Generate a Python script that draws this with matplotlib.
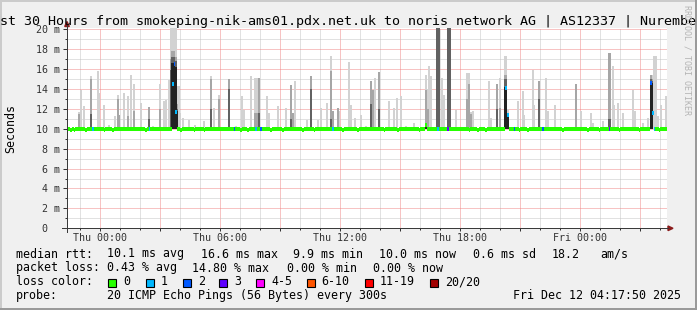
import numpy as np
import matplotlib
matplotlib.use("Agg")
from matplotlib import pyplot
from matplotlib.lines import Line2D
from matplotlib.patches import Rectangle, Polygon

# time axis: hours relative to Thu 00:00, one step every 300 s
start_hour = -1.65
n_steps = 360
step_h = 300 / 3600
baseline_ms = 10.0

# smoke, outer (light) band top per spike, ms
light_hour = [-1.05, -0.95, -0.78, -0.45, -0.12, -0.05, 0.20, 0.45, 0.75, 0.89,
              0.97, 1.22, 1.39, 1.55, 1.72, 2.05, 2.47, 2.65, 3.00, 3.22,
              3.30, 3.47, 3.53, 3.62, 3.70, 3.79, 3.87, 3.94, 4.02, 4.15,
              4.45, 4.75, 5.20, 5.57, 5.68, 5.97, 6.47, 6.80, 7.10, 7.20,
              7.55, 7.75, 7.85, 7.94, 8.35, 8.47, 8.89, 9.30, 9.55, 9.64,
              9.77, 10.35, 10.55, 10.92, 11.05, 11.35, 11.55, 11.64, 11.89, 11.97,
              12.47, 12.55, 12.77, 13.05, 13.30, 13.55, 13.67, 13.77, 13.97, 14.47,
              14.72, 14.85, 15.05, 15.29, 15.69, 16.28, 16.38, 16.47, 16.55, 16.84,
              16.93, 17.10, 17.22, 17.41, 17.50, 17.80, 18.33, 18.43, 18.53, 18.64,
              19.47, 19.55, 19.85, 19.98, 20.23, 20.31, 20.40, 20.89, 21.14, 21.22,
              21.64, 21.72, 21.97, 22.30, 22.39, 22.75, 23.80, 24.05, 24.55, 24.64,
              25.14, 25.43, 25.51, 25.64, 25.72, 25.89, 26.14, 26.64, 26.77, 27.14,
              27.39, 27.53, 27.61, 27.70, 27.79, 27.89, 28.05, 28.30]
light_top = [11.7, 13.9, 12.3, 15.3, 15.8, 13.6, 12.4, 10.4, 11.3, 13.4,
             11.4, 13.6, 13.3, 15.4, 14.5, 12.6, 12.2, 10.3, 14.5, 12.8,
             12.9, 14.9, 20.5, 20.5, 20.5, 20.5, 14.3, 14.3, 11.6, 11.1,
             10.9, 10.4, 10.8, 15.3, 12.1, 13.4, 15.0, 10.3, 13.3, 11.9,
             15.3, 15.1, 15.1, 15.1, 13.3, 11.6, 12.3, 12.1, 14.4, 11.6,
             14.8, 10.9, 15.3, 10.9, 12.1, 12.6, 17.3, 11.8, 12.1, 11.8,
             16.7, 12.4, 11.1, 11.4, 10.3, 14.8, 13.9, 15.1, 15.7, 12.8,
             12.1, 13.1, 13.3, 10.3, 10.6, 15.4, 14.0, 16.3, 15.3, 20.5,
             20.5, 15.1, 13.4, 20.5, 20.5, 11.9, 15.6, 15.6, 11.7, 11.8,
             14.8, 11.1, 14.5, 15.1, 17.3, 17.3, 12.0, 12.8, 13.8, 11.4,
             15.9, 12.4, 14.8, 15.1, 11.8, 12.4, 14.5, 11.8, 11.6, 10.6,
             10.8, 17.6, 17.6, 16.3, 12.4, 12.6, 11.6, 13.9, 11.8, 10.6,
             11.1, 15.4, 15.4, 17.3, 17.3, 11.3, 12.4, 13.3]

# middle grey band
mid_hour = [-1.05, -0.45, 0.89, 0.97, 1.39, 1.72, 2.47, 3.00, 3.53, 3.62,
            3.70, 3.79, 3.87, 5.57, 5.97, 6.47, 7.75, 7.85, 7.94, 9.55,
            9.64, 10.55, 11.55, 11.64, 11.89, 13.55, 13.67, 13.97, 16.28, 16.38,
            16.84, 16.93, 17.41, 17.50, 18.33, 18.43, 18.53, 19.85, 19.98, 20.23,
            20.31, 20.40, 21.97, 23.80, 25.43, 25.51, 27.53, 27.61]
mid_top = [11.5, 15.0, 13.0, 11.4, 11.3, 11.8, 12.2, 12.0, 17.0, 17.8,
           17.8, 17.2, 12.5, 15.0, 13.0, 15.0, 11.6, 11.6, 15.1, 14.4,
           11.6, 15.3, 15.8, 11.8, 12.1, 14.8, 13.9, 15.7, 13.9, 12.0,
           20.5, 20.5, 20.5, 20.5, 13.0, 14.5, 11.5, 14.5, 12.1, 15.4,
           15.4, 11.4, 14.8, 14.5, 17.6, 17.6, 15.4, 15.0]

# dark grey band
dark_hour = [-0.45, 2.47, 3.53, 3.62, 3.70, 3.79, 3.87, 5.57, 6.47, 7.94,
             9.55, 10.55, 11.55, 13.55, 13.97, 16.28, 16.84, 16.93, 17.41, 17.50,
             19.85, 20.23, 20.31, 20.40, 21.97, 25.43, 25.51, 27.53, 27.61]
dark_top = [11.5, 11.0, 15.9, 17.2, 17.2, 16.8, 12.0, 12.0, 14.0, 11.6,
            11.0, 14.0, 11.0, 12.5, 12.0, 10.5, 20.5, 20.5, 20.5, 20.5,
            12.0, 15.0, 15.0, 11.4, 13.0, 11.0, 11.0, 15.0, 14.8]

# innermost (near black) band
core_hour = [3.62, 3.70, 3.79, 3.87, 16.28, 20.23, 20.31, 20.40, 27.53, 27.61]
core_top = [16.6, 16.6, 16.2, 11.8, 10.5, 14.2, 14.2, 11.4, 14.6, 14.6]

# median rtt where it is not 10.0 ms
median_hour = [3.62, 3.70, 3.79, 16.28, 20.31, 20.40, 27.53, 27.61,
               -1.45, -1.25, -0.70, 0.20, 0.65, 2.30, 4.05, 4.75, 5.20, 7.05,
               7.35, 8.55, 9.15, 10.10, 10.70, 12.15, 12.90, 14.25, 14.90, 15.95,
               18.50, 18.90, 19.30, 21.00, 21.40, 23.10, 24.40, 25.00, 26.00, 27.00, 28.00]
median_val = [14.5, 16.5, 11.7, 10.4, 14.1, 11.4, 14.6, 11.6,
              9.9, 9.9, 9.9, 9.9, 9.9, 9.9, 9.9, 9.9, 9.9, 9.9,
              9.9, 9.9, 9.9, 9.9, 9.9, 9.9, 9.9, 9.9, 9.9, 9.9,
              9.9, 9.9, 9.9, 9.9, 9.9, 9.9, 9.9, 9.9, 9.9, 9.9, 9.9]

# lost pings (of 20) per step
loss_hour = [-0.40, 2.50, 3.62, 3.70, 3.79, 6.75, 7.80, 8.05, 11.63, 16.85,
             17.43, 20.31, 20.40, 20.72, 22.13, 25.45, 27.53, 27.61, 27.72]
loss_count = [1, 1, 1, 2, 1, 2, 1, 2, 1, 1,
              3, 1, 1, 2, 2, 3, 2, 1, 1]

loss_labels = ["0", "1", "2", "3", "4-5", "6-10", "11-19", "20/20"]
loss_upper = [0, 1, 2, 3, 5, 10, 19, 20]
loss_colors = ["#26ff00", "#00b8ff", "#0059ff", "#5e00ff", "#ff00ff", "#ff5500", "#ff0000", "#a10000"]

rtt_avg, rtt_max, rtt_min, rtt_now, rtt_sd, am_s = 10.1, 16.6, 9.9, 10.0, 0.6, 18.2
loss_avg, loss_max, loss_min, loss_now = 0.43, 14.80, 0.00, 0.00

title = "Last 30 Hours from smokeping-nik-ams01.pdx.net.uk to noris network AG | AS12337 | Nuremberg"
probe_text = "20 ICMP Echo Pings (56 Bytes) every 300s"
stamp = "Fri Dec 12 04:17:50 2025"

x_ticks = [0, 6, 12, 18, 24]
x_labels = ["Thu 00:00", "Thu 06:00", "Thu 12:00", "Thu 18:00", "Fri 00:00"]

W, H = 697, 310
MONO = "DejaVu Sans Mono"
pyplot.rcParams["font.family"] = MONO


def fx(x):
    return x / W


def fy(y):
    return 1 - y / H


def step_index(h):
    return int((h - start_hour) / step_h)


def loss_color(n):
    for up, c in zip(loss_upper, loss_colors):
        if n <= up:
            return c
    return loss_colors[-1]


step_centers = start_hour + (np.arange(n_steps) + 0.5) * step_h
median = np.full(n_steps, baseline_ms)
for h, v in zip(median_hour, median_val):
    median[step_index(h)] = v
loss = np.zeros(n_steps, dtype=int)
for h, n in zip(loss_hour, loss_count):
    loss[step_index(h)] = n

fig = pyplot.figure(figsize=(W / 100, H / 100), dpi=100, facecolor="#f0f0f0")
ax = fig.add_axes([fx(67), fy(228.3), 600 / W, 200 / H])
ax.set_facecolor("white")
ax.set_xlim(start_hour, start_hour + n_steps * step_h)
ax.set_ylim(0, 20.1)
ax.set_axisbelow(True)
for s in ax.spines.values():
    s.set_visible(False)

# grid: red dotted major, grey dotted minor
ax.set_xticks(np.arange(0, 28.5, 3))
ax.set_xticklabels([x_labels[x_ticks.index(t)] if t in x_ticks else "" for t in np.arange(0, 28.5, 3)])
ax.set_xticks(np.arange(-1, 28.5, 1), minor=True)
ax.set_yticks(np.arange(0, 21, 2))
ax.set_yticklabels(["0  "] + ["%d m" % v for v in range(2, 21, 2)])
ax.set_yticks(np.arange(1, 20, 2), minor=True)
ax.grid(which="minor", color="#c4c4c4", linestyle=(0, (1, 1)), linewidth=0.72)
ax.grid(which="major", color="#f08888", linestyle=(0, (1, 1)), linewidth=0.72)
ax.tick_params(which="both", colors="#333333", width=0.72, labelsize=7.2)
ax.tick_params(axis="y", which="major", length=2.8, pad=2)
ax.tick_params(axis="y", which="minor", length=1.4)
ax.tick_params(axis="x", which="major", length=2.2, pad=1.5)
ax.tick_params(axis="x", which="minor", length=1.2)

# smoke
w = step_h * 1.3
ax.bar(light_hour, np.array(light_top) - baseline_ms, bottom=baseline_ms, width=w, color="#d2d2d2", linewidth=0)
ax.bar(mid_hour, np.array(mid_top) - baseline_ms, bottom=baseline_ms, width=w, color="#a6a6a6", linewidth=0)
ax.bar(dark_hour, np.array(dark_top) - baseline_ms, bottom=baseline_ms, width=w, color="#626262", linewidth=0)
ax.bar(core_hour, np.array(core_top) - baseline_ms, bottom=baseline_ms, width=w, color="#222222", linewidth=0)

# median, coloured by loss
colors = [loss_color(n) for n in loss]
ax.bar(step_centers, 0.36, bottom=median - 0.18, width=step_h * 1.04, color=colors, linewidth=0)

# axis lines with arrows
axis_c = "#3a3a3a"
fig.add_artist(Line2D([fx(67), fx(67)], [fy(232), fy(25)], color=axis_c, lw=0.72))
fig.add_artist(Line2D([fx(62), fx(668)], [fy(228.3), fy(228.3)], color=axis_c, lw=0.72))
fig.add_artist(Polygon([(fx(64.7), fy(26.5)), (fx(69.3), fy(26.5)), (fx(67), fy(21.5))], closed=True,
                       color="#8b1c1c", transform=fig.transFigure))
fig.add_artist(Polygon([(fx(668), fy(226)), (fx(668), fy(230.6)), (fx(673), fy(228.3))], closed=True,
                       color="#8b1c1c", transform=fig.transFigure))

# frame
fig.add_artist(Rectangle((0, fy(2)), 1, 2 / H, color="#cbcbcb", transform=fig.transFigure, lw=0))
fig.add_artist(Rectangle((0, 0), 2 / W, 1, color="#cbcbcb", transform=fig.transFigure, lw=0))
fig.add_artist(Rectangle((0, 0), 1, 2 / H, color="#9a9a9a", transform=fig.transFigure, lw=0))
fig.add_artist(Rectangle((fx(695), 0), 2 / W, 1, color="#9a9a9a", transform=fig.transFigure, lw=0))

fig.text(0.5, fy(24.5), title, ha="center", va="baseline", fontsize=9.6)
fig.text(fx(11), fy(128.5), "Seconds", rotation=90, ha="center", va="center", fontsize=8.4)
fig.text(fx(687.5), fy(5), "RRDTOOL / TOBI OETIKER", rotation=270, ha="center", va="top",
         fontsize=6, color="#b4b4b4")

# legend
lf = 8.4
rows = [
    (257.5, [("median rtt:", 16), ("%.1f ms avg" % rtt_avg, 107.3), ("%.1f ms max" % rtt_max, 201),
             ("%.1f ms min" % rtt_min, 293.3), ("%.1f ms now" % rtt_now, 379.3),
             ("%.1f ms sd" % rtt_sd, 472.7), ("%.1f" % am_s, 551.7), ("am/s", 600)]),
    (271.5, [("packet loss:", 16), ("%.2f %% avg" % loss_avg, 107.3), ("%.2f %% max" % loss_max, 191.7),
             ("%.2f %% min" % loss_min, 286.7), ("%.2f %% now" % loss_now, 372.7)]),
    (285.3, [("loss color:", 16)]),
    (299, [("probe:", 16), (probe_text, 107.3), (stamp, 513.3)]),
]
for y, parts in rows:
    for s, x in parts:
        fig.text(fx(x), fy(y), s, ha="left", va="baseline", fontsize=lf)

box_x = [108.3, 145.7, 182.7, 219.3, 256, 306.7, 365, 430]
for bx, lab, c in zip(box_x, loss_labels, loss_colors):
    fig.add_artist(Rectangle((fx(bx), fy(287.3)), 8 / W, 8 / H, facecolor=c, edgecolor="black",
                             lw=0.8, transform=fig.transFigure))
    fig.text(fx(bx + 15), fy(285.3), lab, ha="left", va="baseline", fontsize=lf)

fig.savefig("out.png", dpi=100, facecolor=fig.get_facecolor())
